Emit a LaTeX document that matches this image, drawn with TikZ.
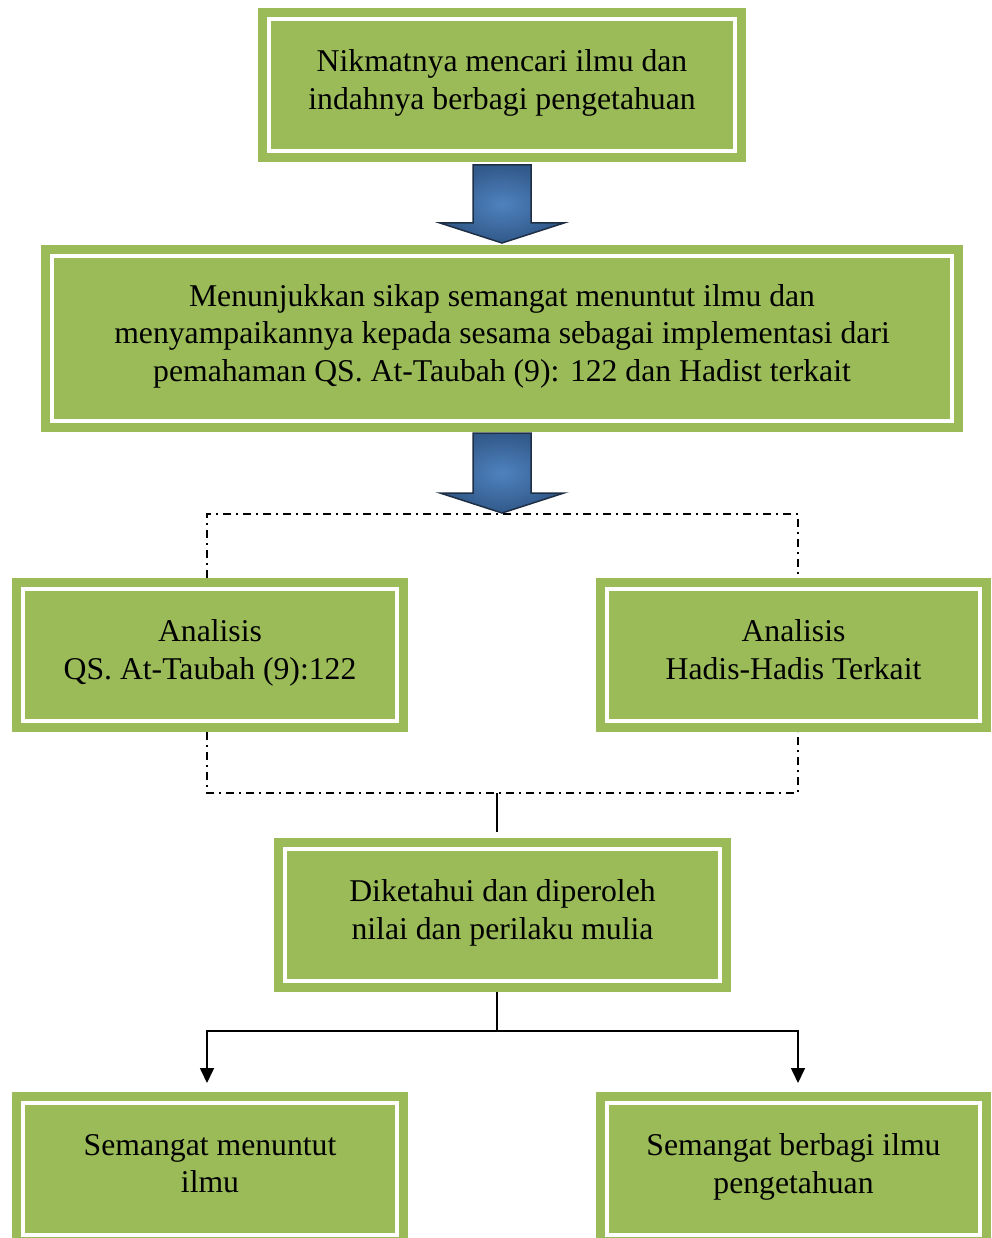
\documentclass[tikz,border=0pt]{standalone}
\usepackage{fontspec}
\setmainfont{Liberation Serif}
\usetikzlibrary{positioning,calc,arrows.meta}

\definecolor{boxgreen}{HTML}{9BBB59}
\definecolor{arrowblue}{HTML}{4F82BE}
\definecolor{arrowdark}{HTML}{31598A}
\definecolor{arrowline}{HTML}{1E2F45}

\tikzset{
  greenbox/.style={draw=boxgreen, fill=boxgreen, line width=9pt, double=white, double distance=4pt,
    outer sep=11pt, inner sep=0pt, align=center, font=\fontsize{31.7}{37.5}\selectfont,
    execute at begin node=\strut, execute at end node=\rule[-7.25pt]{0pt}{7.25pt}},
  dashdot/.style={line width=2pt, dash pattern=on 8pt off 5pt on 2pt off 5pt},
  link/.style={line width=1.6pt},
  blockarrow/.style={draw=arrowline, line width=1.5pt, inner color=arrowblue, outer color=arrowdark}
}

% block arrow: #1 top of shaft, #2 tip
\newcommand{\bluearrow}[2]{%
  \path[blockarrow] ($(#1)+(-29,0)$) -- ($(#2)+(-29,-20)$) -- ($(#2)+(-62,-20)$) -- (#2)
    -- ($(#2)+(62,-20)$) -- ($(#2)+(29,-20)$) -- ($(#1)+(29,0)$) -- cycle;}

\begin{document}
\begin{tikzpicture}[x=1pt, y=-1pt]
\useasboundingbox (0,0) rectangle (992,1238);
\clip (0,0) rectangle (992,1238);

\node[greenbox, minimum width=466pt, minimum height=132pt] (judul) at (502,85)
  {Nikmatnya mencari ilmu dan\\indahnya berbagi pengetahuan};
\node[greenbox, minimum width=900pt, minimum height=165pt] (sikap) at (502,338.5)
  {Menunjukkan sikap semangat menuntut ilmu dan\\menyampaikannya kepada sesama sebagai implementasi dari\\pemahaman QS. At-Taubah (9): 122 dan Hadist terkait};
\node[greenbox, minimum width=374pt, minimum height=132pt] (qs) at (210,655)
  {Analisis\\QS. At-Taubah (9):122};
\node[greenbox, minimum width=373pt, minimum height=132pt] (hadis) at (793.5,655)
  {Analisis\\Hadis-Hadis Terkait};
\node[greenbox, minimum width=435pt, minimum height=132pt] (nilai) at (502.5,915)
  {Diketahui dan diperoleh\\nilai dan perilaku mulia};
\node[greenbox, minimum width=374pt, minimum height=132pt] (belajar) at (210,1169)
  {Semangat menuntut\\ilmu};
\node[greenbox, minimum width=373pt, minimum height=132pt] (berbagi) at (793.5,1169)
  {Semangat berbagi ilmu\\pengetahuan};

\coordinate (forkL) at (207,514);
\coordinate (forkR) at (798,514);
\coordinate (fork) at (502,513);
\coordinate (joinL) at (207,793);
\coordinate (joinR) at (798,793);
\coordinate (join) at (497,793);
\coordinate (split) at (497,1031);

\coordinate (a1) at ($(judul.south)+(0,3)$);
\coordinate (b1) at ($(sikap.north)+(0,-2)$);
\coordinate (a2) at ($(sikap.south)+(0,1)$);
\bluearrow{a1}{b1}
\bluearrow{a2}{fork}

\draw[dashdot] (qs.north -| forkL) -- (forkL) -- (forkR) -- (hadis.north -| forkR);
\draw[dashdot] (qs.south -| joinL) -- (joinL) -- (joinR) -- (hadis.south -| joinR);
\draw[link, shorten >=6pt] (join) -- (nilai.north -| join);

\draw[link] (nilai.south -| split) -- (split);
\draw[link, -{Triangle[length=15pt,width=14pt]}, shorten >=9pt] (split) -| (belajar.north -| forkL);
\draw[link, -{Triangle[length=15pt,width=14pt]}, shorten >=9pt] (split) -| (berbagi.north -| forkR);
\end{tikzpicture}
\end{document}
